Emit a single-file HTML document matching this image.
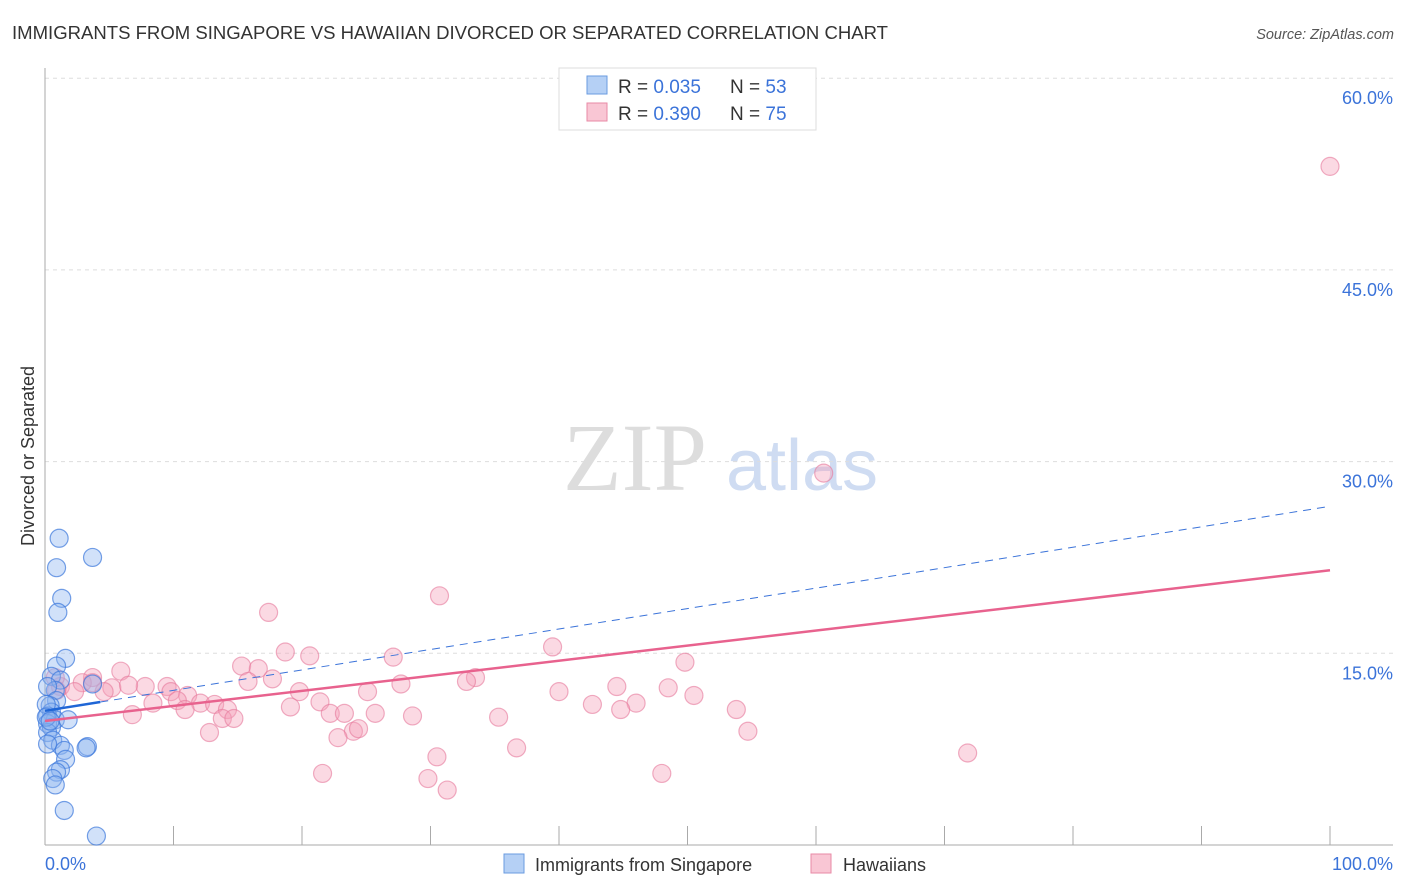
<!DOCTYPE html>
<html><head><meta charset="utf-8"><style>
body{margin:0;background:#fff;font-family:"Liberation Sans",sans-serif;}
svg{display:block}
</style></head><body>
<svg id="chart" width="1406" height="892">
<text x="12" y="39" font-size="18" fill="#333" textLength="876" lengthAdjust="spacingAndGlyphs">IMMIGRANTS FROM SINGAPORE VS HAWAIIAN DIVORCED OR SEPARATED CORRELATION CHART</text>
<text x="1394" y="39" font-size="14.5" fill="#555" font-style="italic" text-anchor="end">Source: ZipAtlas.com</text>
<text x="0" y="0" transform="translate(34,456) rotate(-90)" font-size="18" fill="#333" text-anchor="middle">Divorced or Separated</text>
<g>
<text x="635" y="490" font-size="96" fill="#ddd" font-family="Liberation Serif,serif" text-anchor="middle">ZIP</text>
<text x="802" y="490" font-size="72" fill="#cfdcf2" text-anchor="middle">atlas</text>
</g>
<g id="grid"></g><g id="axes"></g><g id="lines"></g><g id="pts"></g>
<g>
<rect x="559" y="68" width="257" height="62" fill="#fff" stroke="#ddd"/>
<rect x="587" y="76" width="20" height="18" fill="#b5d0f5" stroke="#6a9be0"/>
<text x="618" y="93" font-size="19" fill="#333">R = <tspan fill="#3b73d9">0.035</tspan></text>
<text x="730" y="93" font-size="19" fill="#333">N = <tspan fill="#3b73d9">53</tspan></text>
<rect x="587" y="103" width="20" height="18" fill="#f9c6d4" stroke="#e88aa6"/>
<text x="618" y="120" font-size="19" fill="#333">R = <tspan fill="#3b73d9">0.390</tspan></text>
<text x="730" y="120" font-size="19" fill="#333">N = <tspan fill="#3b73d9">75</tspan></text>
</g>
<g>
<rect x="504" y="854" width="20" height="19" fill="#b5d0f5" stroke="#6a9be0"/>
<text x="535" y="871" font-size="18" fill="#333">Immigrants from Singapore</text>
<rect x="811" y="854" width="20" height="19" fill="#f9c6d4" stroke="#e88aa6"/>
<text x="843" y="871" font-size="18" fill="#333">Hawaiians</text>
</g>
</svg>
<script>
const yTicks=[15,30,45,60];
const yTickLabels=["15.0%","30.0%","45.0%","60.0%"];
const xTickLabels=["0.0%","100.0%"];
const blueX=[1.1,3.7,0.9,1.3,1.0,1.6,0.9,0.5,1.2,0.8,0.2,3.7,0.9,0.4,0.5,0.2,0.8,1.8,0.2,0.5,0.2,0.6,1.2,0.2,3.3,3.2,1.5,1.6,1.2,0.9,0.6,0.8,1.5,4.0,0.1,0.1,0.4];
const blueY=[24.0,22.5,21.7,19.3,18.2,14.6,14.0,13.2,12.9,12.1,12.4,12.6,11.3,10.9,10.4,10.1,9.8,9.8,9.5,9.2,8.8,8.2,7.8,7.9,7.7,7.6,7.4,6.7,5.9,5.7,5.2,4.7,2.7,0.7,11.0,10.0,9.7];
const pinkX=[100,60.6,30.7,17.4,39.5,49.8,27.1,18.7,20.6,15.3,16.6,5.9,3.7,33.5,32.8,17.7,15.8,27.7,44.5,48.5,9.5,7.8,5.2,6.5,2.9,1.2,2.3,4.6,9.8,19.8,25.1,40.0,50.5,11.1,10.3,12.1,8.4,13.2,21.4,46.0,42.6,44.8,19.1,10.9,14.2,53.8,22.2,23.3,25.7,28.6,6.8,13.8,14.7,35.3,12.8,24.0,24.4,22.8,54.7,36.7,30.5,71.8,21.6,48.0,29.8,31.3,0.8,0.9,3.7];
const pinkY=[53.1,29.1,19.5,18.2,15.5,14.3,14.7,15.1,14.8,14.0,13.8,13.6,13.1,13.1,12.8,13.0,12.8,12.6,12.4,12.3,12.4,12.4,12.3,12.5,12.7,12.4,12.0,12.0,12.0,12.0,12.0,12.0,11.7,11.7,11.3,11.1,11.1,11.0,11.2,11.1,11.0,10.6,10.8,10.6,10.6,10.6,10.3,10.3,10.3,10.1,10.2,9.9,9.9,10.0,8.8,8.9,9.1,8.4,8.9,7.6,6.9,7.2,5.6,5.6,5.2,4.3,13.1,12.1,12.7];
const pinkTrend=[9.7,21.5];
const blueTrend=[10.5,26.5];
const blueSolidEnd=4.3;
const X=v=>45+v*12.85, Y=v=>845-v*12.78;
const NS="http://www.w3.org/2000/svg";
function mk(t,a,p){const e=document.createElementNS(NS,t);for(const k in a)e.setAttribute(k,a[k]);p.appendChild(e);return e;}
const grid=document.getElementById('grid'),axes=document.getElementById('axes'),lines=document.getElementById('lines'),pts=document.getElementById('pts');
yTicks.forEach((t,i)=>{
 const g=mk('line',{x1:45,x2:1393,y1:Y(t),y2:Y(t),stroke:'#ddd','stroke-dasharray':'4,4'},grid);
 
 
 const l=mk('text',{x:1393,y:Y(t)+26,'font-size':18,fill:'#3b73d9','text-anchor':'end'},axes);l.textContent=yTickLabels[i];
 
 
});
const ax=mk('line',{x1:45,x2:1393,y1:845,y2:845,stroke:'#aaa'},axes);


const ay=mk('line',{x1:45,x2:45,y1:68,y2:845,stroke:'#aaa'},axes);


for(let i=1;i<=10;i++){const t=mk('line',{x1:X(i*10),x2:X(i*10),y1:826,y2:845,stroke:'#aaa'},axes);
 
 }
[[0,45,'start'],[1,1393,'end']].forEach(([i,x,a])=>{const l=mk('text',{x:x,y:870,'font-size':18,fill:'#3b73d9','text-anchor':a},axes);l.textContent=xTickLabels[i];
 
 });
pinkX.forEach((x,i)=>{const c=mk('circle',{cx:X(x),cy:Y(pinkY[i]),r:9,fill:'rgba(244,160,186,0.4)',stroke:'rgba(230,120,155,0.6)','stroke-width':1.2},pts);
 
 });
blueX.forEach((x,i)=>{const c=mk('circle',{cx:X(x),cy:Y(blueY[i]),r:9,fill:'rgba(140,180,240,0.4)',stroke:'rgba(60,120,220,0.7)','stroke-width':1.2},pts);
 
 });
const pl=mk('line',{x1:X(0),y1:Y(pinkTrend[0]),x2:X(100),y2:Y(pinkTrend[1]),stroke:'#e8628e','stroke-width':2.5},pts);


const bv=x=>blueTrend[0]+(blueTrend[1]-blueTrend[0])*x/100;
const bd=mk('line',{x1:X(blueSolidEnd),y1:Y(bv(blueSolidEnd)),x2:X(100),y2:Y(bv(100)),stroke:'#3b73d9','stroke-width':1,'stroke-dasharray':'8,6'},pts);


const bs=mk('line',{x1:X(0),y1:Y(bv(0)),x2:X(blueSolidEnd),y2:Y(bv(blueSolidEnd)),stroke:'#1f66d6','stroke-width':2.5},pts);


</script>
</body></html>
